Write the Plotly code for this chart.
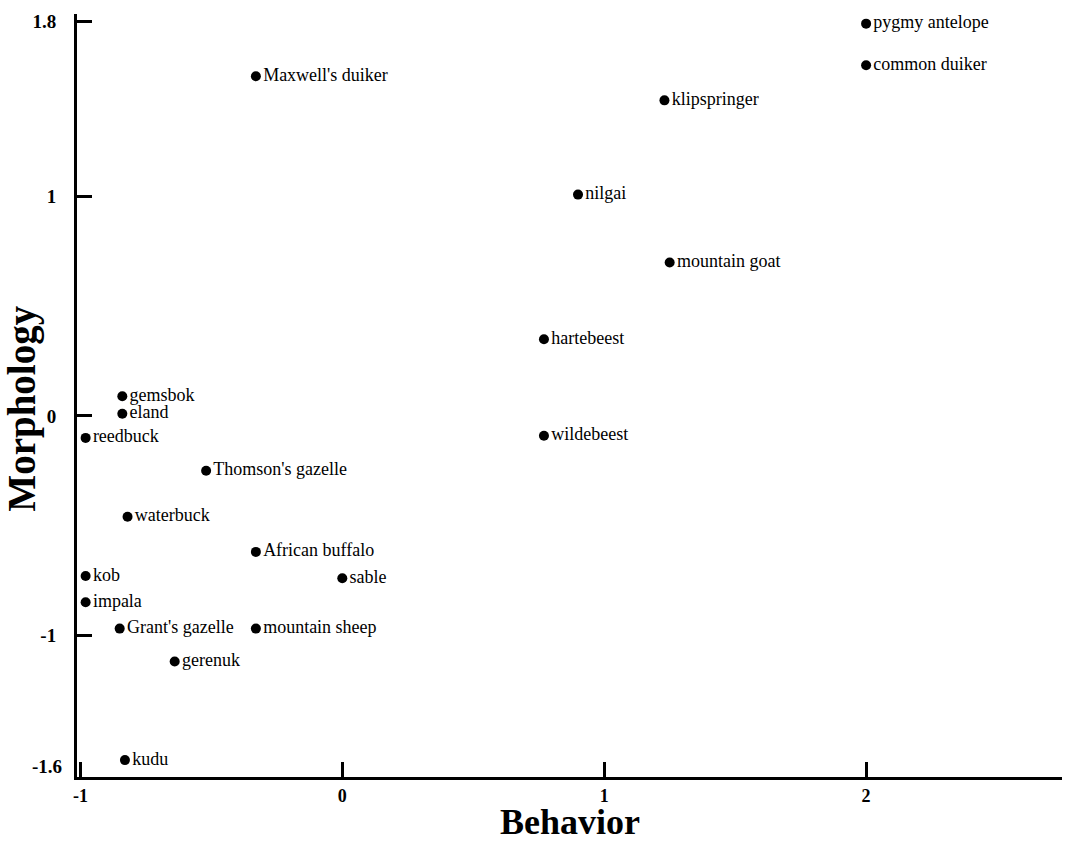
import plotly.graph_objects as go

species = ["pygmy antelope", "common duiker", "Maxwell's duiker", "klipspringer", "nilgai",
           "mountain goat", "hartebeest", "wildebeest", "gemsbok", "eland", "reedbuck",
           "Thomson's gazelle", "waterbuck", "African buffalo", "kob", "sable", "impala",
           "Grant's gazelle", "mountain sheep", "gerenuk", "kudu"]
behavior = [2.00, 2.00, -0.33, 1.23, 0.90,
            1.25, 0.77, 0.77, -0.84, -0.84, -0.98,
            -0.52, -0.82, -0.33, -0.98, 0.00, -0.98,
            -0.85, -0.33, -0.64, -0.83]
morphology = [1.79, 1.60, 1.55, 1.44, 1.01,
              0.70, 0.35, -0.09, 0.09, 0.01, -0.10,
              -0.25, -0.46, -0.62, -0.73, -0.74, -0.85,
              -0.97, -0.97, -1.12, -1.57]

x_ticks = [-1, 0, 1, 2]
y_ticks = [1.8, 1, 0, -1]
y_extra_ticks = [-1.6]

serif = "Liberation Serif, Times New Roman, serif"

fig = go.Figure()
fig.add_trace(go.Scatter(
    x=behavior, y=morphology, mode="markers+text",
    text=species, textposition="middle right",
    textfont=dict(family=serif, size=18, color="black"),
    marker=dict(size=10, color="black"),
    cliponaxis=False, showlegend=False, hoverinfo="skip",
))
# invisible trace to activate second y axis (for the -1.6 label without tick)
fig.add_trace(go.Scatter(x=[None], y=[None], yaxis="y2", showlegend=False))

xtickfont = dict(family=serif, size=18, color="black", weight="bold")
ytickfont = dict(family=serif, size=19, color="black", weight="bold")

fig.update_layout(
    width=1075, height=845,
    margin=dict(l=77, r=13, t=11, b=68),
    paper_bgcolor="white", plot_bgcolor="white",
    xaxis=dict(range=[-1.013, 2.748], tickvals=x_ticks, ticktext=[str(v) for v in x_ticks],
               showgrid=False, zeroline=False, showline=True, linecolor="black", linewidth=3,
               ticks="inside", ticklen=15, tickwidth=3, tickcolor="black",
               ticklabelstandoff=0, tickfont=xtickfont),
    yaxis=dict(range=[-1.647, 1.834], tickvals=y_ticks, ticktext=["1.8", "1", "0", "-1"],
               showgrid=False, zeroline=False, showline=True, linecolor="black", linewidth=3,
               ticks="inside", ticklen=15, tickwidth=3, tickcolor="black",
               ticklabelstandoff=14, tickfont=ytickfont),
    yaxis2=dict(matches="y", overlaying="y", side="left", tickvals=y_extra_ticks,
                ticktext=["-1.6"], ticks="", showgrid=False, zeroline=False, showline=False,
                ticklabelstandoff=14, tickfont=ytickfont),
    annotations=[
        dict(text="Behavior", xref="paper", yref="paper", x=0.5, y=-0.0875,
             xanchor="center", yanchor="bottom", showarrow=False,
             font=dict(family=serif, size=36, color="black", weight="bold")),
        dict(text="Morphology", xref="paper", yref="paper", x=-0.080, y=0.483,
             xanchor="left", yanchor="middle", textangle=-90, showarrow=False,
             font=dict(family=serif, size=39, color="black", weight="bold")),
    ],
)

fig.write_html("out.html", config={"displayModeBar": False},
               post_script="document.body.style.margin='0';")
